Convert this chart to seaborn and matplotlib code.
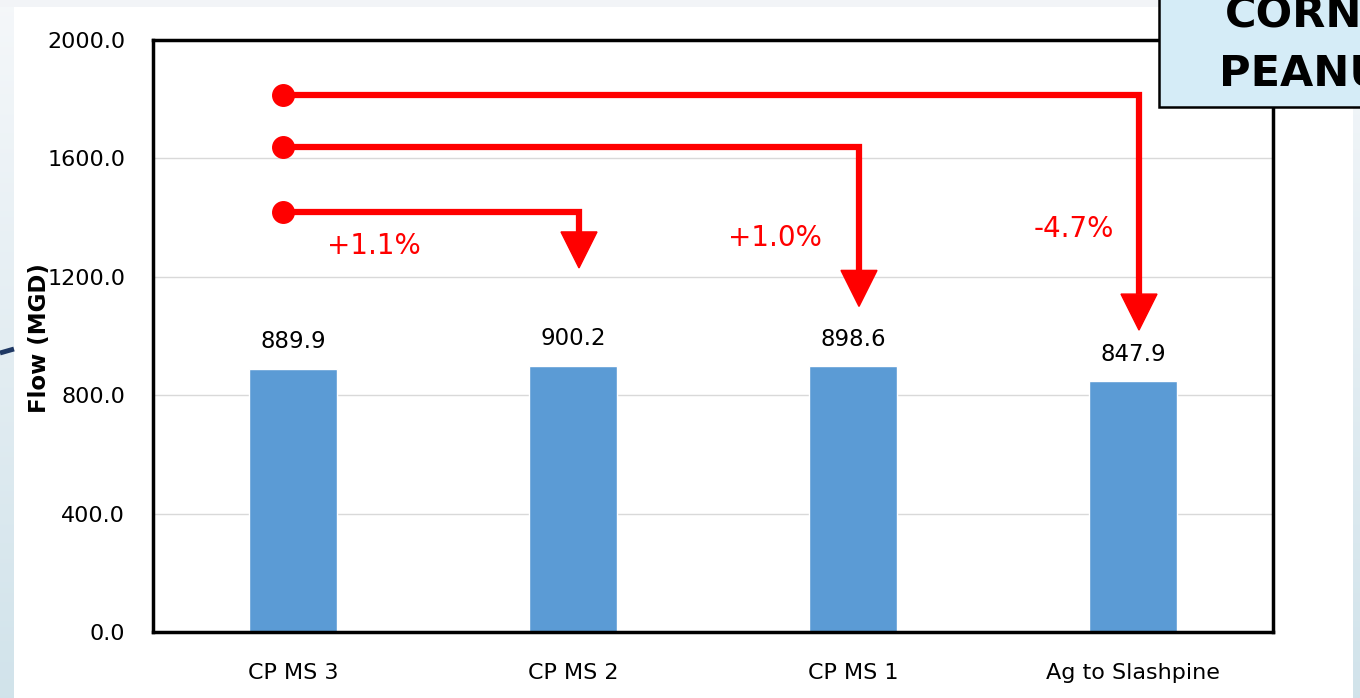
import numpy as np
import matplotlib
matplotlib.use("Agg")
import matplotlib.pyplot as plt
from matplotlib.patches import Rectangle, Polygon
from matplotlib.ticker import FuncFormatter
import seaborn as sns

# ---- data ----
categories = ["CP MS 3", "CP MS 2", "CP MS 1", "Ag to Slashpine"]
flows = [889.9, 900.2, 898.6, 847.9]
y_ticks = [0, 400, 800, 1200, 1600, 2000]

# comparison connectors: from the baseline scenario to each target
change_labels = ["+1.1%", "+1.0%", "-4.7%"]
change_targets = [1, 2, 3]
connector_levels = [1420, 1640, 1815]
connector_tips = [1230, 1100, 1020]
change_label_x = [0.29, 1.72, 2.79]
change_label_y = [1305, 1330, 1360]

BAR = "#5B9BD5"
RED = "#FF0000"

sns.set_theme(style="white")
plt.rcParams["font.family"] = ["DejaVu Sans"]

W, H = 1360, 698
fig = plt.figure(figsize=(W / 100, H / 100), dpi=100)
fig.patch.set_facecolor("white")

# slide backdrop: pale gradient edges around a white panel
bg = fig.add_axes([0, 0, 1, 1], zorder=-10)
img = np.ones((H, W, 3))
top_c = np.array([0.96, 0.97, 0.98])
bot_c = np.array([0.82, 0.89, 0.92])
t = np.linspace(0, 1, H)[:, None]
grad = top_c[None, :] * (1 - t) + bot_c[None, :] * t
img[:, :14, :] = grad[:, None, :]
img[:, 1353:, :] = grad[:, None, :]
img[:7, :, :] = np.array([0.95, 0.96, 0.97])
bg.imshow(img, aspect="auto", extent=[0, W, H, 0])
bg.plot([0, 14], [353, 349], color="#1F3864", lw=3.5, solid_capstyle="butt")
bg.set_xlim(0, W)
bg.set_ylim(H, 0)
bg.axis("off")

# main chart
ax = fig.add_axes([153 / W, 1 - 632 / H, 1120 / W, 592 / H])
ax.set_facecolor("white")
sns.barplot(x=categories, y=flows, color=BAR, saturation=1, width=0.314,
            ax=ax, zorder=2)
ax.set_xlim(-0.5, 3.5)
ax.set_ylim(0, 2000)
ax.set_yticks(y_ticks)
ax.yaxis.set_major_formatter(FuncFormatter(lambda v, _: f"{v:.1f}"))
ax.grid(axis="y", color="#D9D9D9", lw=1, zorder=0)
ax.set_axisbelow(True)
for s in ax.spines.values():
    s.set_visible(True)
    s.set_color("black")
    s.set_linewidth(2.5)
ax.tick_params(axis="both", length=0, labelsize=16, colors="black")
ax.tick_params(axis="x", pad=22)
ax.tick_params(axis="y", pad=20)
ax.set_xlabel("")
ax.set_ylabel("")
fig.text(40 / W, 1 - 338 / H, "Flow (MGD)", rotation=90, fontsize=16.5,
         fontweight="bold", ha="center", va="center", color="black")

# value labels above bars
for i, v in enumerate(flows):
    ax.annotate(f"{v:.1f}", (i, v), xytext=(0, 11), textcoords="offset points",
                ha="center", va="bottom", fontsize=16.5, color="black")

# change connectors with dot start and triangular head
px_x = 4.0 / 1120   # data units per pixel (x)
px_y = 2000 / 592   # data units per pixel (y)
for tgt, lvl, tip, lab, lx, ly in zip(change_targets, connector_levels,
                                      connector_tips, change_labels,
                                      change_label_x, change_label_y):
    xv = tgt + 6 * px_x
    head_base = tip + 36 * px_y
    x0 = -10 * px_x
    ax.plot([x0, xv, xv], [lvl, lvl, head_base], color=RED, lw=4.5,
            solid_joinstyle="miter", solid_capstyle="butt", zorder=4,
            clip_on=False)
    ax.plot([x0], [lvl], marker="o", ms=15.5, color=RED, zorder=5,
            clip_on=False)
    ax.add_patch(Polygon([[xv - 18 * px_x, head_base],
                          [xv + 18 * px_x, head_base],
                          [xv, tip]], closed=True, color=RED, zorder=5))
    ax.text(lx, ly, lab, color=RED, fontsize=20, ha="center", va="center",
            zorder=5)

# title box in the corner
box = Rectangle((1159 / W, 1 - 107 / H), 0.2, 0.3, transform=fig.transFigure,
                facecolor="#D5ECF7", edgecolor="black", lw=1.8, zorder=20,
                clip_on=False)
fig.add_artist(box)
fig.text(1225 / W, 1 - 27 / H, "CORN", fontsize=31, fontweight="bold",
         ha="left", va="baseline", color="black", zorder=21)
fig.text(1219 / W, 1 - 85 / H, "PEANUT", fontsize=31, fontweight="bold",
         ha="left", va="baseline", color="black", zorder=21)

fig.savefig("out.png", dpi=100)
